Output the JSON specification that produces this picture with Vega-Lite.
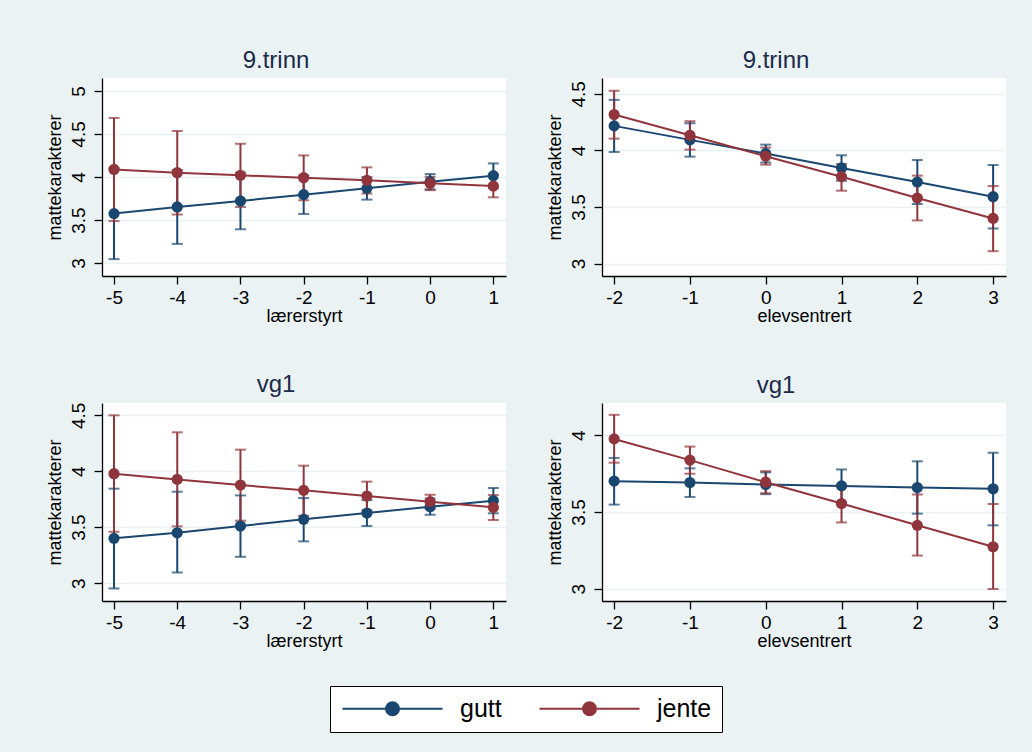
{
  "$schema": "https://vega.github.io/schema/vega-lite/v6.json",
  "padding": {"left": 46, "top": 49, "right": 30, "bottom": 30},
  "background": "#EAF2F3",
  "data": {"values": [
    {"panel":"A","x":-5,"g":"gutt","est":3.575,"lo":3.046,"hi":4.104},
    {"panel":"A","x":-4,"g":"gutt","est":3.652,"lo":3.223,"hi":4.081},
    {"panel":"A","x":-3,"g":"gutt","est":3.722,"lo":3.393,"hi":4.051},
    {"panel":"A","x":-2,"g":"gutt","est":3.795,"lo":3.571,"hi":4.019},
    {"panel":"A","x":-1,"g":"gutt","est":3.868,"lo":3.737,"hi":3.999},
    {"panel":"A","x":0,"g":"gutt","est":3.946,"lo":3.857,"hi":4.034},
    {"panel":"A","x":1,"g":"gutt","est":4.015,"lo":3.872,"hi":4.158},
    {"panel":"A","x":-5,"g":"jente","est":4.088,"lo":3.488,"hi":4.686},
    {"panel":"A","x":-4,"g":"jente","est":4.050,"lo":3.564,"hi":4.534},
    {"panel":"A","x":-3,"g":"jente","est":4.019,"lo":3.652,"hi":4.386},
    {"panel":"A","x":-2,"g":"jente","est":3.992,"lo":3.730,"hi":4.251},
    {"panel":"A","x":-1,"g":"jente","est":3.961,"lo":3.808,"hi":4.112},
    {"panel":"A","x":0,"g":"jente","est":3.926,"lo":3.847,"hi":4.003},
    {"panel":"A","x":1,"g":"jente","est":3.895,"lo":3.764,"hi":4.026},
    {"panel":"B","x":-2,"g":"gutt","est":4.217,"lo":3.986,"hi":4.447},
    {"panel":"B","x":-1,"g":"gutt","est":4.093,"lo":3.945,"hi":4.240},
    {"panel":"B","x":0,"g":"gutt","est":3.972,"lo":3.893,"hi":4.051},
    {"panel":"B","x":1,"g":"gutt","est":3.845,"lo":3.732,"hi":3.957},
    {"panel":"B","x":2,"g":"gutt","est":3.721,"lo":3.526,"hi":3.915},
    {"panel":"B","x":3,"g":"gutt","est":3.591,"lo":3.310,"hi":3.871},
    {"panel":"B","x":-2,"g":"jente","est":4.317,"lo":4.104,"hi":4.527},
    {"panel":"B","x":-1,"g":"jente","est":4.134,"lo":4.007,"hi":4.258},
    {"panel":"B","x":0,"g":"jente","est":3.948,"lo":3.874,"hi":4.025},
    {"panel":"B","x":1,"g":"jente","est":3.768,"lo":3.644,"hi":3.880},
    {"panel":"B","x":2,"g":"jente","est":3.579,"lo":3.381,"hi":3.777},
    {"panel":"B","x":3,"g":"jente","est":3.399,"lo":3.109,"hi":3.685},
    {"panel":"C","x":-5,"g":"gutt","est":3.400,"lo":2.952,"hi":3.844},
    {"panel":"C","x":-4,"g":"gutt","est":3.450,"lo":3.095,"hi":3.817},
    {"panel":"C","x":-3,"g":"gutt","est":3.510,"lo":3.235,"hi":3.784},
    {"panel":"C","x":-2,"g":"gutt","est":3.570,"lo":3.373,"hi":3.760},
    {"panel":"C","x":-1,"g":"gutt","est":3.626,"lo":3.510,"hi":3.742},
    {"panel":"C","x":0,"g":"gutt","est":3.683,"lo":3.611,"hi":3.755},
    {"panel":"C","x":1,"g":"gutt","est":3.737,"lo":3.624,"hi":3.850},
    {"panel":"C","x":-5,"g":"jente","est":3.978,"lo":3.459,"hi":4.500},
    {"panel":"C","x":-4,"g":"jente","est":3.927,"lo":3.507,"hi":4.348},
    {"panel":"C","x":-3,"g":"jente","est":3.877,"lo":3.558,"hi":4.193},
    {"panel":"C","x":-2,"g":"jente","est":3.829,"lo":3.602,"hi":4.050},
    {"panel":"C","x":-1,"g":"jente","est":3.778,"lo":3.650,"hi":3.907},
    {"panel":"C","x":0,"g":"jente","est":3.728,"lo":3.665,"hi":3.790},
    {"panel":"C","x":1,"g":"jente","est":3.677,"lo":3.564,"hi":3.787},
    {"panel":"D","x":-2,"g":"gutt","est":3.701,"lo":3.548,"hi":3.852},
    {"panel":"D","x":-1,"g":"gutt","est":3.692,"lo":3.598,"hi":3.784},
    {"panel":"D","x":0,"g":"gutt","est":3.679,"lo":3.616,"hi":3.758},
    {"panel":"D","x":1,"g":"gutt","est":3.670,"lo":3.563,"hi":3.777},
    {"panel":"D","x":2,"g":"gutt","est":3.659,"lo":3.489,"hi":3.830},
    {"panel":"D","x":3,"g":"gutt","est":3.651,"lo":3.413,"hi":3.886},
    {"panel":"D","x":-2,"g":"jente","est":3.976,"lo":3.821,"hi":4.133},
    {"panel":"D","x":-1,"g":"jente","est":3.838,"lo":3.749,"hi":3.926},
    {"panel":"D","x":0,"g":"jente","est":3.694,"lo":3.622,"hi":3.766},
    {"panel":"D","x":1,"g":"jente","est":3.555,"lo":3.432,"hi":3.678},
    {"panel":"D","x":2,"g":"jente","est":3.413,"lo":3.216,"hi":3.614},
    {"panel":"D","x":3,"g":"jente","est":3.273,"lo":2.998,"hi":3.552}
  ]},
  "columns": 2,
  "spacing": {"row": 127, "column": 96},
  "bounds": "flush",
  "concat": [
    {
      "width": 404, "height": 198,
      "title": "9.trinn",
      "transform": [{"filter": "datum.panel === 'A'"}],
      "encoding": {
        "x": {"field": "x", "type": "quantitative", "scale": {"domain": [-5.19, 1.2], "nice": false, "zero": false}, "axis": {"values": [-5,-4,-3,-2,-1,0,1], "title": "lærerstyrt"}},
        "color": {"field": "g", "type": "nominal", "scale": {"domain": ["gutt","jente"], "range": ["#1A476F","#90353B"]},
          "legend": {"orient": "none", "legendX": 228, "legendY": 608, "direction": "horizontal", "title": null,
            "symbolType": "M-1,0H9M3.35,0A0.65,0.65 0 1,0 4.65,0A0.65,0.65 0 1,0 3.35,0Z",
            "symbolSize": 400, "symbolStrokeWidth": 2, "labelFontSize": 25, "labelColor": "black", "labelFont": "Liberation Sans",
            "labelOffset": 95, "columnPadding": 33, "padding": 10, "strokeColor": "black", "fillColor": "white", "cornerRadius": 0,
            "encode": {"symbols": {"update": {"fill": {"scale": "color", "field": "value"}, "stroke": {"scale": "color", "field": "value"}, "opacity": {"value": 1}}}}}}
      },
      "layer": [
        {"mark": {"type": "rule", "strokeWidth": 2}, "encoding": {"y": {"field": "lo", "type": "quantitative", "title": "mattekarakterer", "scale": {"domain": [2.85, 5.15], "nice": false, "zero": false}, "axis": {"values": [3, 3.5, 4, 4.5, 5]}}, "y2": {"field": "hi"}}},
        {"mark": {"type": "tick", "orient": "horizontal", "size": 11, "thickness": 2}, "encoding": {"y": {"field": "lo", "type": "quantitative", "title": "mattekarakterer"}}},
        {"mark": {"type": "tick", "orient": "horizontal", "size": 11, "thickness": 2}, "encoding": {"y": {"field": "hi", "type": "quantitative", "title": "mattekarakterer"}}},
        {"mark": {"type": "line", "strokeWidth": 2}, "encoding": {"y": {"field": "est", "type": "quantitative", "title": "mattekarakterer"}}},
        {"mark": {"type": "point", "filled": true, "size": 125, "opacity": 1}, "encoding": {"y": {"field": "est", "type": "quantitative", "title": "mattekarakterer"}}}
      ]
    },
    {
      "width": 404, "height": 198,
      "title": "9.trinn",
      "transform": [{"filter": "datum.panel === 'B'"}],
      "encoding": {
        "x": {"field": "x", "type": "quantitative", "scale": {"domain": [-2.16, 3.17], "nice": false, "zero": false}, "axis": {"values": [-2,-1,0,1,2,3], "title": "elevsentrert"}},
        "color": {"field": "g", "type": "nominal"}
      },
      "layer": [
        {"mark": {"type": "rule", "strokeWidth": 2}, "encoding": {"y": {"field": "lo", "type": "quantitative", "title": "mattekarakterer", "scale": {"domain": [2.89, 4.64], "nice": false, "zero": false}, "axis": {"values": [3, 3.5, 4, 4.5]}}, "y2": {"field": "hi"}}},
        {"mark": {"type": "tick", "orient": "horizontal", "size": 11, "thickness": 2}, "encoding": {"y": {"field": "lo", "type": "quantitative", "title": "mattekarakterer"}}},
        {"mark": {"type": "tick", "orient": "horizontal", "size": 11, "thickness": 2}, "encoding": {"y": {"field": "hi", "type": "quantitative", "title": "mattekarakterer"}}},
        {"mark": {"type": "line", "strokeWidth": 2}, "encoding": {"y": {"field": "est", "type": "quantitative", "title": "mattekarakterer"}}},
        {"mark": {"type": "point", "filled": true, "size": 125, "opacity": 1}, "encoding": {"y": {"field": "est", "type": "quantitative", "title": "mattekarakterer"}}}
      ]
    },
    {
      "width": 404, "height": 198,
      "title": "vg1",
      "transform": [{"filter": "datum.panel === 'C'"}],
      "encoding": {
        "x": {"field": "x", "type": "quantitative", "scale": {"domain": [-5.19, 1.2], "nice": false, "zero": false}, "axis": {"values": [-5,-4,-3,-2,-1,0,1], "title": "lærerstyrt"}},
        "color": {"field": "g", "type": "nominal"}
      },
      "layer": [
        {"mark": {"type": "rule", "strokeWidth": 2}, "encoding": {"y": {"field": "lo", "type": "quantitative", "title": "mattekarakterer", "scale": {"domain": [2.84, 4.61], "nice": false, "zero": false}, "axis": {"values": [3, 3.5, 4, 4.5]}}, "y2": {"field": "hi"}}},
        {"mark": {"type": "tick", "orient": "horizontal", "size": 11, "thickness": 2}, "encoding": {"y": {"field": "lo", "type": "quantitative", "title": "mattekarakterer"}}},
        {"mark": {"type": "tick", "orient": "horizontal", "size": 11, "thickness": 2}, "encoding": {"y": {"field": "hi", "type": "quantitative", "title": "mattekarakterer"}}},
        {"mark": {"type": "line", "strokeWidth": 2}, "encoding": {"y": {"field": "est", "type": "quantitative", "title": "mattekarakterer"}}},
        {"mark": {"type": "point", "filled": true, "size": 125, "opacity": 1}, "encoding": {"y": {"field": "est", "type": "quantitative", "title": "mattekarakterer"}}}
      ]
    },
    {
      "width": 404, "height": 198,
      "title": "vg1",
      "transform": [{"filter": "datum.panel === 'D'"}],
      "encoding": {
        "x": {"field": "x", "type": "quantitative", "scale": {"domain": [-2.16, 3.17], "nice": false, "zero": false}, "axis": {"values": [-2,-1,0,1,2,3], "title": "elevsentrert"}},
        "color": {"field": "g", "type": "nominal"}
      },
      "layer": [
        {"mark": {"type": "rule", "strokeWidth": 2}, "encoding": {"y": {"field": "lo", "type": "quantitative", "title": "mattekarakterer", "scale": {"domain": [2.92, 4.21], "nice": false, "zero": false}, "axis": {"values": [3, 3.5, 4]}}, "y2": {"field": "hi"}}},
        {"mark": {"type": "tick", "orient": "horizontal", "size": 11, "thickness": 2}, "encoding": {"y": {"field": "lo", "type": "quantitative", "title": "mattekarakterer"}}},
        {"mark": {"type": "tick", "orient": "horizontal", "size": 11, "thickness": 2}, "encoding": {"y": {"field": "hi", "type": "quantitative", "title": "mattekarakterer"}}},
        {"mark": {"type": "line", "strokeWidth": 2}, "encoding": {"y": {"field": "est", "type": "quantitative", "title": "mattekarakterer"}}},
        {"mark": {"type": "point", "filled": true, "size": 125, "opacity": 1}, "encoding": {"y": {"field": "est", "type": "quantitative", "title": "mattekarakterer"}}}
      ]
    }
  ],
  "config": {
    "font": "Liberation Sans",
    "view": {"fill": "white", "stroke": null},
    "axis": {"domainColor": "black", "domainWidth": 1.3, "tickColor": "black", "tickWidth": 1.3, "tickSize": 8,
      "labelColor": "black", "labelFontSize": 19, "labelFont": "Liberation Sans", "titleFont": "Liberation Sans",
      "titleFontSize": 18, "titleFontWeight": "normal", "titleColor": "black", "gridColor": "#E8F1F3", "gridWidth": 1.5,
      "labelFlush": false, "labelOverlap": false, "labelExpr": "toString(datum.value)"},
    "axisX": {"grid": false, "labelPadding": 4, "titlePadding": 0},
    "axisY": {"grid": true, "labelAngle": 270, "labelAlign": "center", "labelBaseline": "bottom", "labelPadding": 6, "titlePadding": 5},
    "title": {"fontSize": 24, "fontWeight": "normal", "color": "#1C2B4A", "font": "Liberation Sans", "frame": "bounds", "anchor": "middle", "baseline": "alphabetic", "offset": 5},
    "legend": {"symbolOpacity": 1}
  }
}
